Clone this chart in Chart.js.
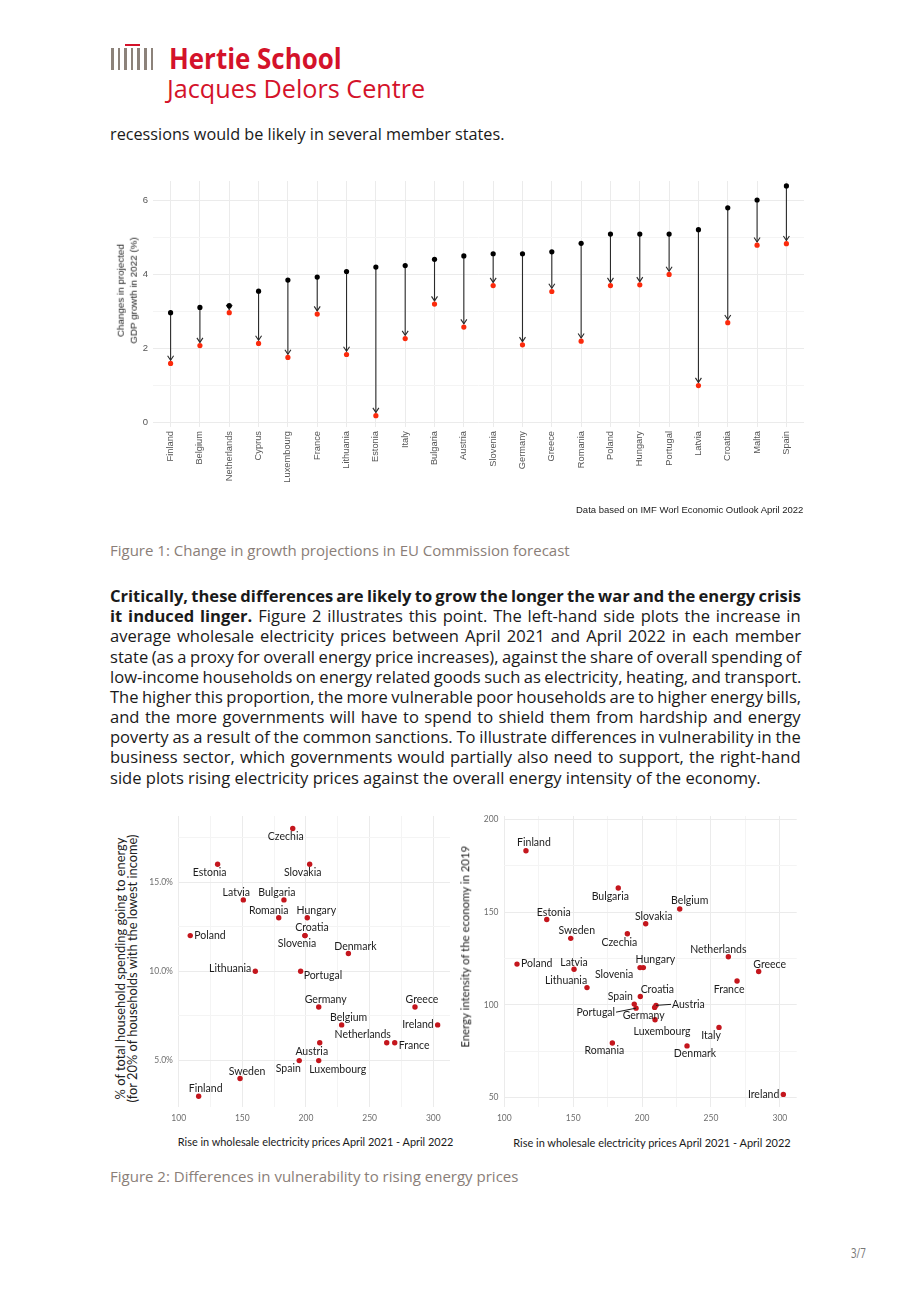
<!DOCTYPE html>
<html><head><meta charset="utf-8">
<script src="https://cdn.jsdelivr.net/npm/chart.js@4.4.1/dist/chart.umd.min.js"></script>
<style>
html,body{margin:0;padding:0;background:#fff;}
body{width:920px;height:1302px;position:relative;overflow:hidden;font-family:'Open Sans',sans-serif;color:#1a1a1a;}
.t{position:absolute;white-space:nowrap;line-height:1;}
.bl{display:inline-block;width:0;height:0;vertical-align:baseline;}
canvas{position:absolute;}
.bar{position:absolute;background:#8c827a;}
</style></head><body>
<div class="bar" style="left:111px;top:48px;width:2.6px;height:21.5px"></div>
<div class="bar" style="left:117.6px;top:48px;width:2.6px;height:21.5px"></div>
<div class="bar" style="left:124.2px;top:48px;width:2.6px;height:21.5px"></div>
<div class="bar" style="left:130.8px;top:48px;width:2.6px;height:21.5px"></div>
<div class="bar" style="left:137.4px;top:48px;width:2.6px;height:21.5px"></div>
<div class="bar" style="left:144px;top:48px;width:2.6px;height:21.5px"></div>
<div class="bar" style="left:150.6px;top:48px;width:2.6px;height:21.5px"></div>
<div class="bar" style="left:124.5px;top:43.5px;width:15px;height:2.4px;background:#d4122a"></div>

<canvas id="c1" width="700" height="345" style="left:110px;top:175px;width:700px;height:345px"></canvas>
<canvas id="c2" width="320" height="320" style="left:140px;top:810px;width:320px;height:320px"></canvas>
<canvas id="c3" width="336" height="320" style="left:470px;top:810px;width:336px;height:320px"></canvas>

<script>
// ---------- Figure 1 data ----------
const countries = ['Finland','Belgium','Netherlands','Cyprus','Luxembourg','France','Lithuania','Estonia','Italy','Bulgaria','Austria','Slovenia','Germany','Greece','Romania','Poland','Hungary','Portugal','Latvia','Croatia','Malta','Spain'];
const growthBefore = [2.96,3.10,3.15,3.54,3.84,3.92,4.07,4.19,4.23,4.40,4.49,4.55,4.55,4.60,4.83,5.08,5.08,5.08,5.20,5.79,6.00,6.38];
const growthAfter  = [1.59,2.07,2.96,2.13,1.75,2.92,1.83,0.18,2.26,3.19,2.57,3.69,2.09,3.53,2.19,3.69,3.71,3.99,0.99,2.69,4.78,4.82];
const growthTicks = [0,1,2,3,4,5,6];

// ---------- Figure 2 (left) data ----------
const hhCountries = ['Czechia','Estonia','Slovakia','Latvia','Bulgaria','Romania','Hungary','Croatia','Slovenia','Poland','Denmark','Lithuania','Portugal','Germany','Greece','Belgium','Ireland','Netherlands','France','Austria','Spain','Luxembourg','Sweden','Finland'];
const hhPriceRise = [189.6,130.6,202.9,150.8,182.7,178.6,201.0,199.2,199.2,109.1,233.3,160.2,195.8,210.0,285.6,228.0,303.4,263.4,269.7,210.8,194.7,210.0,148.2,115.7];
const hhEnergyShare = [18.0,16.0,16.0,14.0,14.0,13.0,13.0,12.0,12.0,12.0,11.0,10.0,10.0,8.0,8.0,7.0,7.0,6.0,6.0,6.0,5.0,5.0,4.0,3.0];
const priceTicks = [100,125,150,175,200,225,250,275,300];
const shareTicks = [5,7.5,10,12.5,15,17.5];

// ---------- Figure 2 (right) data ----------
const eiCountries = ['Finland','Bulgaria','Belgium','Estonia','Slovakia','Czechia','Sweden','Netherlands','Poland','Hungary','Slovenia','Latvia','Greece','France','Lithuania','Croatia','Spain','Portugal','Austria','Germany','Luxembourg','Italy','Denmark','Romania','Ireland'];
const eiPriceRise = [115.7,182.7,227.3,130.8,202.6,189.3,148.2,262.6,109.2,200.9,198.5,150.6,284.6,268.9,160.0,198.7,194.3,195.6,210.1,209.1,209.4,255.8,232.6,178.4,302.5];
const eiIntensity = [183.2,163.1,151.8,146.1,143.8,138.4,135.9,126.0,122.0,120.1,120.1,119.2,118.0,112.9,109.3,104.5,100.4,98.2,99.7,98.6,91.9,87.8,77.8,79.4,51.6];
const intensityTicks = [50,75,100,125,150,175,200];

// ---------- label placement (style, px offsets) ----------
const hhLabelPos = {Czechia:[-7,8],Estonia:[-8,8],Slovakia:[-7,8],Latvia:[-7,-7],Bulgaria:[-7,-7],Romania:[-10,-7],Hungary:[9,-7],Croatia:[7,-8],Slovenia:[-8,8],Poland:[4,0,'left'],Denmark:[7,-7],Lithuania:[-4,-3,'right'],Portugal:[3,4,'left'],Germany:[7,-7],Greece:[7,-7],Belgium:[7,-7],Ireland:[-4,0,'right'],Netherlands:[-24,-8],France:[4,3,'left'],Austria:[-8,9],Spain:[-11,8],Luxembourg:[19,9],Sweden:[7,-7],Finland:[7,-8]};
const eiLabelPos = {Finland:[8,-8],Bulgaria:[-8,9],Belgium:[10,-8],Estonia:[7,-7],Slovakia:[8,-7],Czechia:[-8,9],Sweden:[6,-8],Netherlands:[-10,-7],Poland:[4,0,'left'],Hungary:[12,-8],Slovenia:[-26,7],Latvia:[0,-7],Greece:[11,-7],France:[-8,9],Lithuania:[-21,-7],Croatia:[17,-7],Spain:[-14,-7],Portugal:[-21,4,'right',true],Austria:[16,-1,'left',true],Germany:[-11,8],Luxembourg:[7,12],Italy:[-8,8],Denmark:[8,8],Romania:[-8,8],Ireland:[-4,0,'right']};

const RED = '#d4122a';
const GRID = '#ebebeb', GRID_MINOR = '#f4f4f4';
const noPadX = s => { s.paddingLeft = 0; s.paddingRight = 0; };
const noPadY = s => { s.paddingTop = 0; s.paddingBottom = 0; };

// ---------- Figure 1 chart ----------
const arrowPlugin = {id:'arrows', beforeDatasetsDraw(chart){
  const {ctx} = chart; const x = chart.scales.x, y = chart.scales.y;
  ctx.save(); ctx.strokeStyle = '#2b2b2b'; ctx.lineWidth = 1.1; ctx.lineJoin='miter';
  growthBefore.forEach((b,i)=>{
    const px = x.getPixelForValue(i), y0 = y.getPixelForValue(b), y1 = y.getPixelForValue(growthAfter[i]);
    const tip = y1 - 3.2;
    ctx.beginPath(); ctx.moveTo(px,y0); ctx.lineTo(px,tip); ctx.stroke();
    ctx.beginPath(); ctx.moveTo(px-3,tip-4.5); ctx.lineTo(px,tip); ctx.lineTo(px+3,tip-4.5); ctx.stroke();
  });
  ctx.restore();
}};

new Chart(document.getElementById('c1'), {
  type:'scatter',
  data:{datasets:[
    {data: growthBefore.map((v,i)=>({x:i,y:v})), backgroundColor:'#000', pointRadius:2.6, pointBorderWidth:0},
    {data: growthAfter.map((v,i)=>({x:i,y:v})), backgroundColor:'#fb2a0c', pointRadius:2.6, pointBorderWidth:0}
  ]},
  options:{
    responsive:false, animation:false, events:[],
    layout:{padding:{left:0,top:6,right:6,bottom:0}},
    plugins:{legend:{display:false}, tooltip:{enabled:false}},
    scales:{
      x:{type:'linear', min:-0.6, max:21.6,
        afterBuildTicks:s=>{ s.ticks = countries.map((c,i)=>({value:i})); },
        ticks:{autoSkip:false, maxRotation:90, minRotation:90, padding:4, color:'#555', font:{family:'Liberation Sans', size:9.3}, callback:v=>countries[v]},
        grid:{color:GRID, lineWidth:1, drawTicks:false}, border:{display:false},
        afterFit:s=>{ s.height = 93; noPadX(s); }},
      y:{min:-0.127, max:6.513,
        afterBuildTicks:s=>{ s.ticks = growthTicks.map(v=>({value:v})); },
        ticks:{padding:5, color:'#555', font:{family:'Liberation Sans', size:9.5}, callback:v=> (v%2===0 ? String(v) : '')},
        grid:{color:c=> (c.tick && c.tick.value%2 ? GRID_MINOR : GRID), lineWidth:1, drawTicks:false}, border:{display:false},
        afterFit:s=>{ s.width = 43; noPadY(s); }}
    }
  },
  plugins:[arrowPlugin]
});

// ---------- Figure 2 charts ----------
function labelPlugin(names, xs, ys, pos){
  return {id:'lbl', afterDatasetsDraw(chart){
    const {ctx} = chart; const sx = chart.scales.x, sy = chart.scales.y;
    ctx.save(); ctx.font = '10.5px Lato'; ctx.fillStyle = '#1c1c1c'; ctx.textBaseline = 'middle';
    names.forEach((n,i)=>{
      const p = pos[n] || [0,-8];
      const px = sx.getPixelForValue(xs[i]), py = sy.getPixelForValue(ys[i]);
      const align = p[2] || 'center'; ctx.textAlign = align;
      const tx = px + p[0], ty = py + p[1];
      if (p[3]) { ctx.strokeStyle='#1c1c1c'; ctx.lineWidth=1; ctx.beginPath(); ctx.moveTo(px,py); ctx.lineTo(align==='left'? tx-1 : tx+1, ty); ctx.stroke(); }
      ctx.fillText(n, tx, ty);
    });
    ctx.restore();
  }};
}
function scatter(id, names, xs, ys, pos, xr, yr, yTicks, yMajor, yFmt, yW, rightPad){
  new Chart(document.getElementById(id), {
    type:'scatter',
    data:{datasets:[{data: xs.map((v,i)=>({x:v,y:ys[i]})), backgroundColor:'#c4161d', pointRadius:2.7, pointBorderWidth:0}]},
    options:{
      responsive:false, animation:false, events:[],
      layout:{padding:{left:0,top:6,right:rightPad,bottom:0}},
      plugins:{legend:{display:false}, tooltip:{enabled:false}},
      scales:{
        x:{min:xr[0], max:xr[1],
          afterBuildTicks:s=>{ s.ticks = priceTicks.map(v=>({value:v})); },
          ticks:{padding:6, color:'#6e6e6e', font:{family:'Lato', size:8.5}, callback:v=> (v%50===0 ? String(v) : '')},
          grid:{color:c=> (c.tick && c.tick.value%50 ? GRID_MINOR : GRID), lineWidth:1, drawTicks:false}, border:{display:false},
          afterFit:s=>{ s.height = 23; noPadX(s); }},
        y:{min:yr[0], max:yr[1],
          afterBuildTicks:s=>{ s.ticks = yTicks.map(v=>({value:v})); },
          ticks:{padding:5, color:'#6e6e6e', font:{family:'Lato', size:8.5}, callback:v=> (v%yMajor===0 ? yFmt(v) : '')},
          grid:{color:c=> (c.tick && c.tick.value%yMajor ? GRID_MINOR : GRID), lineWidth:1, drawTicks:false}, border:{display:false},
          afterFit:s=>{ s.width = yW; noPadY(s); }}
      }
    },
    plugins:[labelPlugin(names, xs, ys, pos)]
  });
}
scatter('c2', hhCountries, hhPriceRise, hhEnergyShare, hhLabelPos, [99.4,313.1], [2.4,18.7], shareTicks, 5, v=>v.toFixed(1)+'%', 37.9, 10);
scatter('c3', eiCountries, eiPriceRise, eiIntensity, eiLabelPos, [99.4,312.2], [44.8,202], intensityTicks, 50, v=>String(v), 33.5, 9.3);

// ---------- HTML text ----------
const items = [];
function T(html, o){
  const d = document.createElement('div'); d.className = 't';
  d.innerHTML = html + '<span class="bl"></span>';
  d.style.fontFamily = o.font || "'Open Sans'"; d.style.fontWeight = o.weight || 400; d.style.color = o.color || '#1a1a1a';
  if (o.lh) d.style.lineHeight = o.lh + 'px';
  if (o.rot) d.style.textAlign = 'center';
  document.body.appendChild(d); o.el = d; items.push(o); return o;
}
const GRAY = '#8a7e78';
T('Hertie School', {left:169, base:69.3, w:173, size:28, weight:700, color:RED, fit:'scale'});
T('Jacques Delors Centre', {left:167, base:97.7, w:258, size:25.5, color:RED, fit:'scale'});
T('recessions would be likely in several member states.', {left:110, base:140, w:395, size:14.5});
T('Changes in projected<br>GDP growth in 2022 (%)', {cx:127, cy:290, w:107, size:10.5, lh:12.5, font:"'Liberation Sans'", color:'#222', rot:true});
T('Data based on IMF Worl Economic Outlook April 2022', {right:803, base:512.5, w:227, size:9, font:"'Liberation Sans'"});
T('Figure 1: Change in growth projections in EU Commission forecast', {left:110, base:556, w:460, size:14, color:GRAY});
const para = [
 '<b>Critically, these differences are likely to grow the longer the war and the energy crisis</b>',
 '<b>it induced linger.</b> Figure 2 illustrates this point. The left-hand side plots the increase in',
 'average wholesale electricity prices between April 2021 and April 2022 in each member',
 'state (as a proxy for overall energy price increases), against the share of overall spending of',
 'low-income households on energy related goods such as electricity, heating, and transport.',
 'The higher this proportion, the more vulnerable poor households are to higher energy bills,',
 'and the more governments will have to spend to shield them from hardship and energy',
 'poverty as a result of the common sanctions. To illustrate differences in vulnerability in the',
 'business sector, which governments would partially also need to support, the right-hand',
 'side plots rising electricity prices against the overall energy intensity of the economy.'
];
const lastLine = T(para[9], {left:110, base:602+9*20.17, w:651, size:14.5});
const paraItems = para.slice(0,9).map((h,i)=>T(h, {left:110, base:602+i*20.17, w:691, size:14.5, fit:'word', sizeFrom:lastLine}));
T('% of total household spending going to energy<br>(for 20% of households with the lowest income)', {cx:125.5, cy:968, w:268, size:11.5, lh:11.5, font:'Lato', color:'#222', rot:true});
T('Rise in wholesale electricity prices April 2021 - April 2022', {cx:315.3, base:1146, w:276, size:10.8, font:'Lato'});
T('Energy intensity of the economy in 2019', {cx:465, cy:946, w:202, size:11.5, font:'Lato', color:'#222', rot:true});
T('Rise in wholesale electricity prices April 2021 - April 2022', {cx:651.7, base:1147, w:278, size:10.8, font:'Lato'});
T('Figure 2: Differences in vulnerability to rising energy prices', {left:110, base:1182, w:409, size:14, color:GRAY});
T('3/7', {cx:858, base:1258, w:15, size:15, color:'#777', fit:'scale'});

function layout(){
  items.forEach(o=>{
    const d = o.el;
    let size = o.sizeFrom ? o.sizeFrom.finalSize : o.size;
    d.style.fontSize = size + 'px'; d.style.wordSpacing = '0px'; d.style.transform = '';
    let sx = 1;
    if (o.w) {
      const w = d.offsetWidth;
      if (o.fit === 'word') {
        const n = (d.textContent.match(/ /g) || []).length;
        if (n) d.style.wordSpacing = ((o.w - w) / n) + 'px';
      } else if (o.fit === 'scale') {
        sx = o.w / w;
      } else {
        size = size * o.w / w; d.style.fontSize = size + 'px';
      }
    }
    o.finalSize = size;
    const W = d.offsetWidth, H = d.offsetHeight;
    if (o.rot) {
      d.style.left = Math.round(o.cx - W/2) + 'px'; d.style.top = Math.round(o.cy - H/2) + 'px';
      d.style.transform = 'rotate(-90deg)';
    } else {
      const bl = d.querySelector('.bl').offsetTop;
      d.style.top = (o.base - bl) + 'px';
      let left = o.left;
      if (o.right !== undefined) left = o.right - W*sx;
      if (o.cx !== undefined) left = o.cx - W*sx/2;
      d.style.left = left + 'px';
      if (sx !== 1) { d.style.transformOrigin = '0 0'; d.style.transform = 'scaleX(' + sx + ')'; }
    }
  });
}
layout();
if (document.fonts && document.fonts.ready) document.fonts.ready.then(layout);
</script>
</body></html>
